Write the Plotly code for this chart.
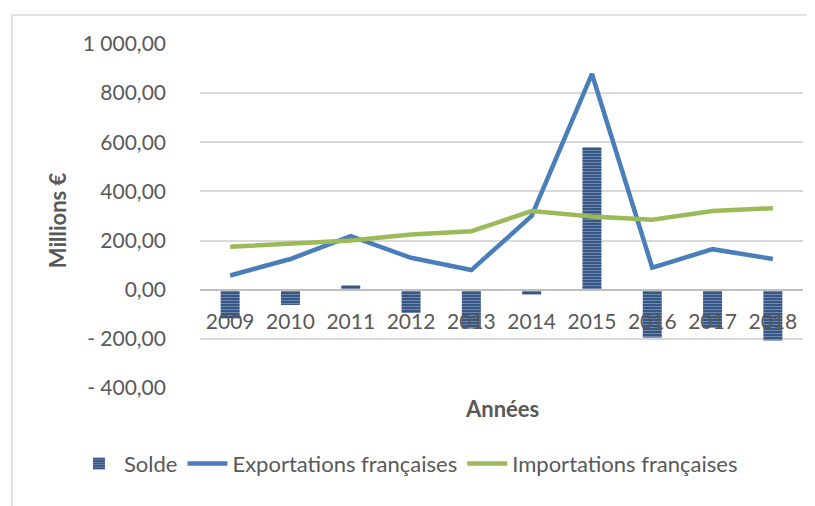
import plotly.graph_objects as go

annees = ["2009", "2010", "2011", "2012", "2013", "2014", "2015", "2016", "2017", "2018"]
exportations = [58, 125, 218, 130, 80, 300, 878, 90, 165, 125]
importations = [175, 187, 200, 225, 238, 320, 298, 285, 320, 332]
solde = [-117, -62, 18, -95, -158, -20, 580, -195, -155, -207]

ytick_vals = [-400, -200, 0, 200, 400, 600, 800, 1000]
ytick_text = ["- 400,00", "- 200,00", "0,00", "200,00", "400,00", "600,00", "800,00", "1 000,00"]

FONT = "Lato"
GREY = "#595959"

fig = go.Figure()
fig.add_trace(go.Bar(
    x=annees, y=solde, name="Solde",
    marker=dict(color="#2F5081", line=dict(width=0),
                pattern=dict(shape="-", fgcolor="#AFC1DA", bgcolor="#2F5081",
                             size=3, solidity=0.4, fillmode="overlay")),
))
fig.add_trace(go.Scatter(
    x=annees, y=exportations, name="Exportations françaises", mode="lines",
    line=dict(color="#4A7EBB", width=4.5),
))
fig.add_trace(go.Scatter(
    x=annees, y=importations, name="Importations françaises", mode="lines",
    line=dict(color="#9BBB59", width=4.5),
))

fig.update_layout(
    width=815, height=506,
    margin=dict(l=192, r=20, t=36, b=126, autoexpand=False),
    paper_bgcolor="white", plot_bgcolor="white",
    font=dict(family=FONT, color=GREY, size=21),
    bargap=0.685,
    showlegend=True,
    legend=dict(orientation="h", x=-0.209, xanchor="left", y=-0.22, yanchor="middle",
                font=dict(size=22, color=GREY), itemwidth=40, tracegroupgap=0),
    xaxis=dict(type="category", anchor="free", position=400 / 1400,
               showline=True, linecolor="#BFBFBF", linewidth=2,
               showgrid=False, ticks="", tickfont=dict(size=21, color=GREY),
               ticklabelstandoff=13, automargin=False),
    yaxis=dict(range=[-400, 1000], tickvals=ytick_vals, ticktext=ytick_text,
               showgrid=True, gridcolor="#D9D9D9", gridwidth=1.5,
               zeroline=False, showline=False, ticks="", automargin=False,
               ticklabelstandoff=33, tickfont=dict(size=21, color=GREY)),
    annotations=[
        dict(text="<b>Millions €</b>", xref="paper", yref="paper",
             x=-0.237, y=0.488, textangle=-90, showarrow=False,
             font=dict(size=22, color=GREY), xanchor="center", yanchor="middle"),
        dict(text="<b>Années</b>", xref="paper", yref="paper",
             x=0.5, y=-0.06, showarrow=False,
             font=dict(size=22, color=GREY), xanchor="center", yanchor="middle"),
    ],
    shapes=[
        dict(type="line", xref="paper", yref="paper", x0=-0.312, x1=1.05,
             y0=1.084, y1=1.084, line=dict(color="#D9D9D9", width=1.5)),
        dict(type="line", xref="paper", yref="paper", x0=-0.312, x1=-0.312,
             y0=1.084, y1=-0.36, line=dict(color="#D9D9D9", width=1.5)),
    ],
)

fig.write_html("out.html")
